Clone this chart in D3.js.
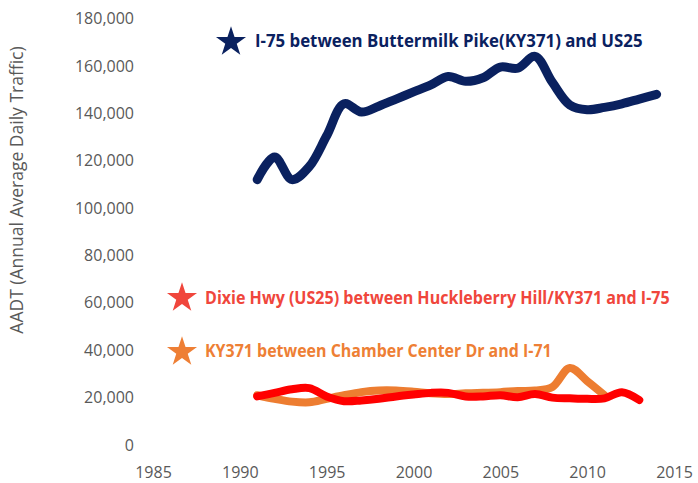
<!DOCTYPE html>
<html>
<head>
<meta charset="utf-8">
<script src="https://cdn.jsdelivr.net/npm/d3@7"></script>
<style>
  body { margin: 0; background: #fff; }
  svg { display: block; font-family: 'Open Sans', sans-serif; }
</style>
</head>
<body>
<svg class="chart"></svg>
<script>
const [width, height] = [698, 483]

// Years per series.
const yearsI75 = [1991, 1992, 1993, 1994, 1995, 1996, 1997, 1998, 1999, 2000, 2001, 2002,
	2003, 2004, 2005, 2006, 2007, 2008, 2009, 2010, 2011, 2012, 2013, 2014]
const yearsDixie = [1991, 1992, 1993, 1994, 1995, 1996, 1997, 1998, 1999, 2000, 2001, 2002,
	2003, 2004, 2005, 2006, 2007, 2008, 2009, 2010, 2011, 2012, 2013]
const yearsKY371 = [1991, 1992, 1993, 1994, 1995, 1996, 1997, 1998, 1999, 2000, 2001, 2002,
	2003, 2004, 2005, 2006, 2007, 2008, 2009, 2010, 2011]

// AADT values.
const aadtI75 = [112000, 121500, 112000, 117500, 130500, 144000, 140500, 143000, 146000, 149000,
	152000, 155500, 153500, 155000, 159500, 159000, 164000, 153000, 143500, 141500, 142500,
	144000, 146000, 148000]
const aadtDixie = [20500, 22000, 23500, 24000, 20500, 18500, 18800, 19500, 20500, 21300,
	22000, 22000, 20500, 20500, 21000, 20200, 21500, 20000, 19700, 19500, 19700, 22300, 19000]
const aadtKY371 = [21000, 19500, 18300, 18000, 19500, 21000, 22300, 23000, 23000, 22500,
	21800, 21500, 21800, 22000, 22300, 22800, 23000, 24500, 32500, 27000, 21000]

const xTicks = [1985, 1990, 1995, 2000, 2005, 2010, 2015]
const yTicks = [0, 20000, 40000, 60000, 80000, 100000, 120000, 140000, 160000, 180000]

const seriesNames = [
	'I-75 between Buttermilk Pike(KY371) and US25',
	'Dixie Hwy (US25) between Huckleberry Hill/KY371 and I-75',
	'KY371 between Chamber Center Dr and I-71',
]

const svg = d3.select('svg.chart')
	.attr('width', width)
	.attr('height', height)

const x = d3.scaleLinear().domain([1985, 2015]).range([153, 674])
const y = d3.scaleLinear().domain([0, 180000]).range([445, 18.5])

const fmt = d3.format(',')

// Axes without lines, just labels.
const xAxis = svg.append('g')
	.attr('transform', 'translate(0,464)')
	.call(d3.axisBottom(x).tickValues(xTicks).tickFormat(d3.format('d')).tickSize(0))
xAxis.select('.domain').remove()
xAxis.selectAll('text')
	.attr('font-family', "'Open Sans', sans-serif")
	.attr('font-size', 16)
	.attr('fill', '#595959')

const yAxis = svg.append('g')
	.attr('transform', 'translate(137,0)')
	.call(d3.axisLeft(y).tickValues(yTicks).tickFormat(fmt).tickSize(0))
yAxis.select('.domain').remove()
yAxis.selectAll('text')
	.attr('font-family', "'Open Sans', sans-serif")
	.attr('font-size', 16)
	.attr('fill', '#595959')

svg.append('text')
	.attr('transform', 'translate(23,190) rotate(-90)')
	.attr('text-anchor', 'middle')
	.attr('font-size', 17.5)
	.attr('fill', '#595959')
	.text('AADT (Annual Average Daily Traffic)')

const line = d3.line()
	.x(d => x(d[0]))
	.y(d => y(d[1]))
	.curve(d3.curveCatmullRom.alpha(0.5))

const series = [
	{ years: yearsKY371, values: aadtKY371, color: '#ed7d31', w: 8 },
	{ years: yearsDixie, values: aadtDixie, color: '#ff0000', w: 8 },
	{ years: yearsI75, values: aadtI75, color: '#0a215f', w: 9 },
]

svg.selectAll('path.series')
		.data(series)
	.enter().append('path')
		.attr('class', 'series')
		.attr('d', s => line(s.years.map((yr, i) => [yr, s.values[i]])))
		.attr('fill', 'none')
		.attr('stroke', s => s.color)
		.attr('stroke-width', s => s.w)
		.attr('stroke-linecap', 'round')
		.attr('stroke-linejoin', 'round')

// Star legends.
const legend = [
	{ name: seriesNames[0], color: '#0a215f', sx: 231, sy: 42, tx: 255, ty: 47, len: 388 },
	{ name: seriesNames[1], color: '#f0463c', sx: 182, sy: 298, tx: 205, ty: 304, len: 465 },
	{ name: seriesNames[2], color: '#ee7f35', sx: 182, sy: 352, tx: 205, ty: 357, len: 347 },
]

const star = d3.symbol().type(d3.symbolStar).size(280)

const lg = svg.selectAll('g.legend')
		.data(legend)
	.enter().append('g')
		.attr('class', 'legend')

lg.append('path')
	.attr('d', star)
	.attr('transform', d => `translate(${d.sx},${d.sy})`)
	.attr('fill', d => d.color)

// squeeze the bold label horizontally to the width it has in the picture
lg.append('text')
	.attr('font-size', 18.5)
	.attr('font-weight', 'bold')
	.attr('fill', d => d.color)
	.text(d => d.name)
	.attr('transform', function (d) {
		const k = d.len / this.getComputedTextLength()
		return `translate(${d.tx},${d.ty}) scale(${k},1)`
	})
</script>
</body>
</html>
